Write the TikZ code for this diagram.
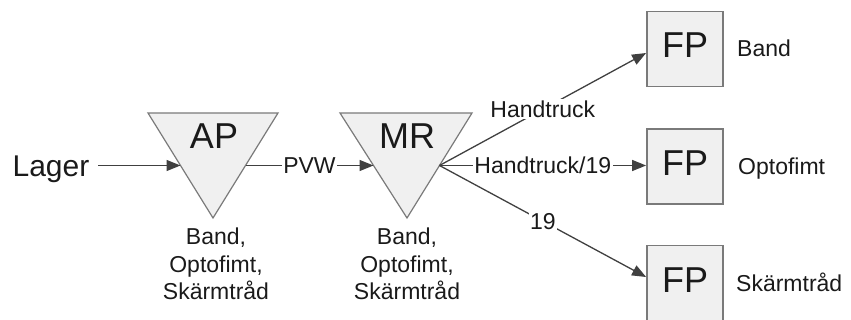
\documentclass[tikz,border=0pt]{standalone}
\usepackage{fontspec}
\setmainfont{Liberation Sans}
\usetikzlibrary{arrows.meta}
\definecolor{edgegray}{HTML}{404040}
\definecolor{shapeline}{HTML}{7A7A7A}
\definecolor{shapefill}{HTML}{F0F0F0}
\definecolor{ink}{HTML}{1A1A1A}
\begin{document}
\begin{tikzpicture}[x=1pt,y=-1pt,
  flow/.style={draw=edgegray,line width=1.3pt,-{Triangle[length=14pt,width=11pt]}},
  station/.style={draw=shapeline,fill=shapefill,line width=1.2pt,line join=miter},
  fpbox/.style={draw=shapeline,fill=shapefill,line width=1.8pt,minimum width=76pt,
    minimum height=75pt,inner sep=0pt,font=\fontsize{36}{40}\selectfont,
    text height=26pt,text depth=8pt,text=ink},
  big/.style={font=\fontsize{36}{40}\selectfont,text=ink,inner sep=0pt},
  small/.style={font=\fontsize{23}{27.5}\selectfont,text=ink,inner sep=0pt},
  tag/.style={small,fill=white,inner sep=1.5pt},
]
\useasboundingbox (0,0) rectangle (851,320);

% source
\node[font=\fontsize{30}{36}\selectfont,text=ink,inner sep=0pt,outer xsep=9pt,
      text height=21.5pt,text depth=0pt] (lager) at (51,165.5) {Lager};

% AP station (downward triangle)
\draw[station] (148,113) -- (278,113) -- (213,218) -- cycle;
\coordinate (ap-in) at (180.5,165.5);
\coordinate (ap-out) at (245.5,165.5);
\node[big,anchor=base] (ap) at (214,149) {AP};
\node[small,align=center,anchor=north] (ap-parts) at (216,228) {Band,\\Optofimt,\\Skärmtråd};

% MR station (downward triangle)
\draw[station] (340,113) -- (472,113) -- (407,218) -- cycle;
\coordinate (mr-in) at (373.5,165.5);
\coordinate (mr-out) at (439.5,165.5);
\node[big,anchor=base] (mr) at (407,149) {MR};
\node[small,align=center,anchor=north] (mr-parts) at (407,228) {Band,\\Optofimt,\\Skärmtråd};

% finished products
\node[fpbox] (fp1) at (685,49) {FP};
\node[fpbox] (fp2) at (685,166.5) {FP};
\node[fpbox] (fp3) at (685,283) {FP};
\node[small,anchor=base west] (fp1-name) at (737,57) {Band};
\node[small,anchor=base west] (fp2-name) at (738,175) {Optofimt};
\node[small,anchor=base west] (fp3-name) at (736,291) {Skärmtråd};

% flows
\draw[flow] (lager) -- (ap-in);
\draw[flow] (ap-out) -- node[tag] {PVW} (mr-in);
\draw[flow] (mr-out) -- node[tag] {Handtruck} ([yshift=-4pt]fp1.west);
\draw[flow] (mr-out) -- node[tag] {Handtruck/19} (fp2.west |- mr-out);
\draw[flow] (mr-out) -- node[tag] {19} ([yshift=6pt]fp3.west);
\end{tikzpicture}
\end{document}
